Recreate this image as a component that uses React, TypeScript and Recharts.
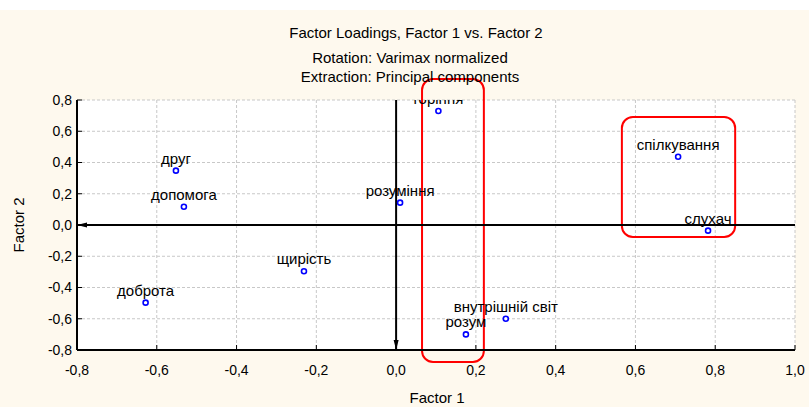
import React from "react";
import {
  ScatterChart,
  Scatter,
  XAxis,
  YAxis,
  CartesianGrid,
  ReferenceLine,
  ReferenceArea,
  ReferenceDot,
} from "recharts";

// ---- data ----
const names = [
  "друг",
  "допомога",
  "доброта",
  "щирість",
  "розуміння",
  "горіння",
  "розум",
  "внутрішній світ",
  "спілкування",
  "слухач",
];
const factor1 = [-0.552, -0.532, -0.628, -0.231, 0.01, 0.106, 0.175, 0.275, 0.707, 0.782];
const factor2 = [0.348, 0.117, -0.497, -0.296, 0.143, 0.73, -0.7, -0.6, 0.437, -0.036];

const xTicks = [-0.8, -0.6, -0.4, -0.2, 0, 0.2, 0.4, 0.6, 0.8, 1.0];
const yTicks = [-0.8, -0.6, -0.4, -0.2, 0, 0.2, 0.4, 0.6, 0.8];

// highlighted regions (annotation boxes), in factor units
const boxF1From = [0.065, 0.566];
const boxF1To = [0.22, 0.85];
const boxF2From = [-0.877, -0.077];
const boxF2To = [0.934, 0.691];

const titleLines = [
  "Factor Loadings, Factor 1 vs. Factor 2",
  "Rotation: Varimax normalized",
  "Extraction: Principal components",
];
const xLabel = "Factor 1";
const yLabel = "Factor 2";

const points = names.map((n, i) => ({ name: n, f1: factor1[i], f2: factor2[i] }));

const FONT = "'Liberation Sans', Arial, sans-serif";
const W = 809;
const H = 407;

const fmt = (v: number) => v.toFixed(1).replace(".", ",");

const PointShape = (p: any) => {
  const { cx, cy, payload } = p;
  return (
    <g>
      <circle cx={cx} cy={cy} r={2.5} fill="#fff" stroke="#0000ff" strokeWidth={1.6} />
      <text
        x={cx}
        y={cy - 7}
        textAnchor="middle"
        fontFamily={FONT}
        fontSize={15}
        fill="#000"
      >
        {payload.name}
      </text>
    </g>
  );
};

const DownArrow = (p: any) => {
  const { cx, cy } = p;
  return <polygon points={`${cx - 2.5},${cy - 10} ${cx + 2.5},${cy - 10} ${cx},${cy}`} fill="#000" />;
};
const LeftArrow = (p: any) => {
  const { cx, cy } = p;
  return <polygon points={`${cx + 10},${cy - 2.5} ${cx + 10},${cy + 2.5} ${cx},${cy}`} fill="#000" />;
};

const BoxShape = (p: any) => (
  <rect
    x={p.x}
    y={p.y}
    width={p.width}
    height={p.height}
    rx={11}
    ry={11}
    fill="none"
    stroke="#ff0000"
    strokeWidth={2}
  />
);

const tickStyle = { fontFamily: FONT, fontSize: 14, fill: "#000" };

export default function App() {
  return (
    <div
      style={{
        position: "absolute",
        left: 0,
        top: 0,
        width: W,
        height: H,
        background: "linear-gradient(#ffffff 0px, #ffffff 10px, #fef9ee 10px)",
      }}
    >
      <ScatterChart
        width={W}
        height={H}
        margin={{ top: 100, right: 14, bottom: 0, left: 0 }}
      >
        <CartesianGrid stroke="#c8c8c8" strokeDasharray="3 2" fill="#ffffff" />
        <XAxis
          type="number"
          dataKey="f1"
          domain={[-0.8, 1.0]}
          ticks={xTicks}
          allowDataOverflow
          tickFormatter={fmt}
          height={57}
          axisLine={{ stroke: "#000", strokeWidth: 2 }}
          tickLine={{ stroke: "#000" }}
          tickSize={-5}
          tickMargin={20}
          tick={tickStyle}
        />
        <YAxis
          type="number"
          dataKey="f2"
          domain={[-0.8, 0.8]}
          ticks={yTicks}
          allowDataOverflow
          tickFormatter={fmt}
          width={77}
          axisLine={{ stroke: "#000", strokeWidth: 2 }}
          tickLine={{ stroke: "#000" }}
          tickSize={-5}
          tickMargin={10}
          tick={tickStyle}
        />
        <XAxis
          xAxisId="top"
          orientation="top"
          type="number"
          domain={[-0.8, 1.0]}
          ticks={xTicks}
          allowDataOverflow
          height={0}
          axisLine={{ stroke: "#000", strokeWidth: 2 }}
          tickLine={{ stroke: "#000" }}
          tickSize={-5}
          tick={false}
        />
        <YAxis
          yAxisId="right"
          orientation="right"
          type="number"
          domain={[-0.8, 0.8]}
          ticks={yTicks}
          allowDataOverflow
          width={0}
          axisLine={{ stroke: "#000", strokeWidth: 2 }}
          tickLine={{ stroke: "#000" }}
          tickSize={-5}
          tick={false}
        />
        <ReferenceLine x={0} stroke="#000" strokeWidth={2} />
        <ReferenceLine y={0} stroke="#000" strokeWidth={2} />
        <ReferenceDot x={0} y={-0.8} shape={DownArrow} ifOverflow="visible" />
        <ReferenceDot x={-0.8} y={0} shape={LeftArrow} ifOverflow="visible" />
        <Scatter data={points} shape={PointShape} isAnimationActive={false} />
        {boxF1From.map((x1, i) => (
          <ReferenceArea
            key={i}
            x1={x1}
            x2={boxF1To[i]}
            y1={boxF2From[i]}
            y2={boxF2To[i]}
            ifOverflow="visible"
            shape={BoxShape}
          />
        ))}
      </ScatterChart>
      <svg
        width={W}
        height={H}
        style={{ position: "absolute", left: 0, top: 0, pointerEvents: "none" }}
      >
        <text x={416} y={38} textAnchor="middle" fontFamily={FONT} fontSize={15} fill="#000">
          {titleLines[0]}
        </text>
        <text x={410} y={63} textAnchor="middle" fontFamily={FONT} fontSize={15} fill="#000">
          {titleLines[1]}
        </text>
        <text x={410} y={82} textAnchor="middle" fontFamily={FONT} fontSize={15} fill="#000">
          {titleLines[2]}
        </text>
        <text x={437} y={403} textAnchor="middle" fontFamily={FONT} fontSize={15} fill="#000">
          {xLabel}
        </text>
        <text
          x={0}
          y={0}
          transform="translate(24,225) rotate(-90)"
          textAnchor="middle"
          fontFamily={FONT}
          fontSize={15}
          fill="#000"
        >
          {yLabel}
        </text>
      </svg>
    </div>
  );
}
